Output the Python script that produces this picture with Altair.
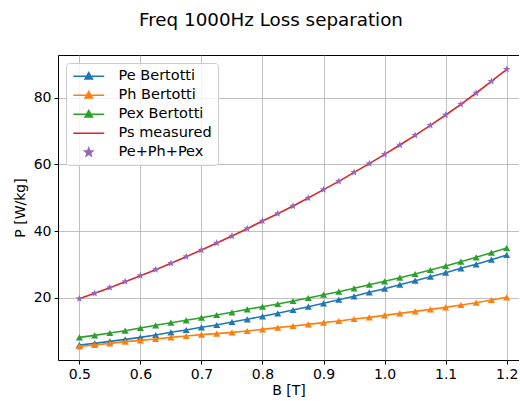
import math
import altair as alt
import pandas as pd

# Peak flux density B [T]
b_values = [0.500, 0.525, 0.550, 0.575, 0.600, 0.625, 0.650, 0.675, 0.700, 0.725,
            0.750, 0.775, 0.800, 0.825, 0.850, 0.875, 0.900, 0.925, 0.950, 0.975,
            1.000, 1.025, 1.050, 1.075, 1.100, 1.125, 1.150, 1.175, 1.200]

# Bertotti loss components [W/kg]
pe_bertotti = [5.8, 6.3, 6.9, 7.5, 8.1, 8.8, 9.6, 10.3, 11.1, 11.8,
               12.7, 13.5, 14.4, 15.3, 16.3, 17.3, 18.3, 19.4, 20.4, 21.6,
               22.7, 23.9, 25.1, 26.3, 27.5, 28.8, 30.0, 31.4, 32.8]
ph_bertotti = [5.4, 5.8, 6.3, 6.8, 7.2, 7.6, 8.1, 8.5, 8.9, 9.2,
               9.6, 10.0, 10.5, 11.0, 11.5, 12.0, 12.5, 13.0, 13.6, 14.1,
               14.7, 15.3, 15.9, 16.5, 17.1, 17.8, 18.5, 19.3, 20.1]
pex_bertotti = [8.1, 8.7, 9.4, 10.1, 10.9, 11.7, 12.5, 13.2, 14.0, 14.8,
                15.6, 16.5, 17.3, 18.1, 19.0, 19.9, 20.9, 21.8, 22.8, 23.9,
                24.9, 26.0, 27.1, 28.3, 29.5, 30.8, 32.1, 33.5, 34.9]

# Measured total loss and reported model total [W/kg]
ps_measured = [19.7, 21.3, 23.0, 24.8, 26.6, 28.4, 30.3, 32.3, 34.3, 36.4,
               38.5, 40.7, 43.0, 45.2, 47.5, 49.9, 52.4, 54.9, 57.6, 60.2,
               63.0, 65.8, 68.7, 71.7, 74.8, 78.0, 81.4, 84.9, 88.5]
p_total = [19.7, 21.3, 23.0, 24.8, 26.6, 28.4, 30.3, 32.3, 34.3, 36.4,
           38.5, 40.7, 43.0, 45.2, 47.5, 49.9, 52.4, 54.9, 57.6, 60.2,
           63.0, 65.8, 68.7, 71.7, 74.8, 78.0, 81.4, 84.9, 88.5]

series_names = ["Pe Bertotti", "Ph Bertotti", "Pex Bertotti", "Ps measured", "Pe+Ph+Pex"]
series_colors = ["#1f77b4", "#ff7f0e", "#2ca02c", "#d62728", "#9467bd"]
x_ticks = [0.5, 0.6, 0.7, 0.8, 0.9, 1.0, 1.1, 1.2]
y_ticks = [20, 40, 60, 80]

rows = []
for name, vals in zip(series_names,
                      [pe_bertotti, ph_bertotti, pex_bertotti, ps_measured, p_total]):
    for i, (b, p) in enumerate(zip(b_values, vals)):
        rows.append({"B": b, "P": p, "series": name, "order": i})
df = pd.DataFrame(rows)

FONT = "DejaVu Sans"


def star_path(cx=0.0):
    """Five-pointed star outline in symbol units, centred at (cx, 0)."""
    pts = []
    for k in range(10):
        r = 0.85 if k % 2 == 0 else 0.36
        a = -math.pi / 2 + k * math.pi / 5
        pts.append(f"{cx + r * math.cos(a):.3f},{r * math.sin(a):.3f}")
    return "M" + "L".join(pts) + "Z"


# legend glyphs: short line segment with the marker drawn at its middle
seg = "M-1.2,0L5,0"
tri = "M1.9,-0.75L2.65,0.55L1.15,0.55Z"
legend_shapes = [seg + tri, seg + tri, seg + tri, seg, star_path(1.9)]

x_scale = alt.Scale(domain=[0.465, 1.2202], nice=False, zero=False)
y_scale = alt.Scale(domain=[1.3, 92.8], nice=False, zero=False)

x_enc = alt.X("B:Q", scale=x_scale,
              axis=alt.Axis(title="B [T]", values=x_ticks, format=".1f"))
y_enc = alt.Y("P:Q", scale=y_scale,
              axis=alt.Axis(title="P [W/kg]", values=y_ticks, format="d"))

base = alt.Chart(df)


def series_data(name):
    return base.transform_filter(alt.datum.series == name)


layers = []
for name, col in zip(series_names[:3], series_colors[:3]):
    layers.append(series_data(name).mark_line(strokeWidth=1.6, color=col).encode(
        x=x_enc, y=y_enc, order="order:Q"))
    layers.append(series_data(name).mark_point(
        shape="triangle-up", filled=True, size=50, opacity=1, color=col).encode(
        x=x_enc, y=y_enc))

layers.append(series_data("Ps measured").mark_line(
    strokeWidth=1.6, color=series_colors[3]).encode(x=x_enc, y=y_enc, order="order:Q"))
layers.append(series_data("Pe+Ph+Pex").mark_point(
    shape=star_path(), filled=True, size=85, opacity=1, color=series_colors[4]).encode(
    x=x_enc, y=y_enc))

legend = alt.Legend(
    title=None, orient="top-left", offset=8,
    symbolSize=100, symbolStrokeWidth=1.5, symbolOpacity=1,
    labelFont=FONT, labelFontSize=14.5, labelColor="#000000",
    labelOffset=32, rowPadding=4, padding=6,
    fillColor="rgba(255,255,255,0.8)", strokeColor="#cccccc",
    cornerRadius=3,
)

# legend-only layer: no rows reach it, entries come from the scale domains
legend_layer = base.transform_filter(alt.datum.P < -1000).mark_point(filled=True).encode(
    x=x_enc, y=y_enc,
    fill=alt.Fill("series:N", scale=alt.Scale(domain=series_names, range=series_colors),
                  legend=legend),
    stroke=alt.Stroke("series:N", scale=alt.Scale(domain=series_names, range=series_colors),
                      legend=legend),
    shape=alt.Shape("series:N", scale=alt.Scale(domain=series_names, range=legend_shapes),
                    legend=legend),
)
layers.append(legend_layer)

chart = alt.layer(*layers).properties(
    width=461, height=305,
    title=alt.TitleParams("Freq 1000Hz Loss separation", font=FONT, fontSize=18.3,
                          fontWeight="normal", color="#000000", anchor="middle",
                          dx=-17.5, offset=25),
    autosize=alt.AutoSizeParams(type="none"),
    padding={"left": 58, "top": 55, "right": 0, "bottom": 41},
).configure_view(
    stroke="#000000", strokeWidth=1,
).configure_axis(
    labelFont=FONT, titleFont=FONT, labelFontSize=14, titleFontSize=14,
    labelColor="#000000", titleColor="#000000", titleFontWeight="normal",
    tickColor="#000000", tickSize=4, tickWidth=1, domain=False,
    gridColor="#b0b0b0", gridWidth=0.8,
).configure_axisX(
    labelPadding=3, titlePadding=2,
).configure_axisY(
    labelPadding=3, titlePadding=6,
)

chart.save("out.html", embed_options={"renderer": "svg", "actions": False})
